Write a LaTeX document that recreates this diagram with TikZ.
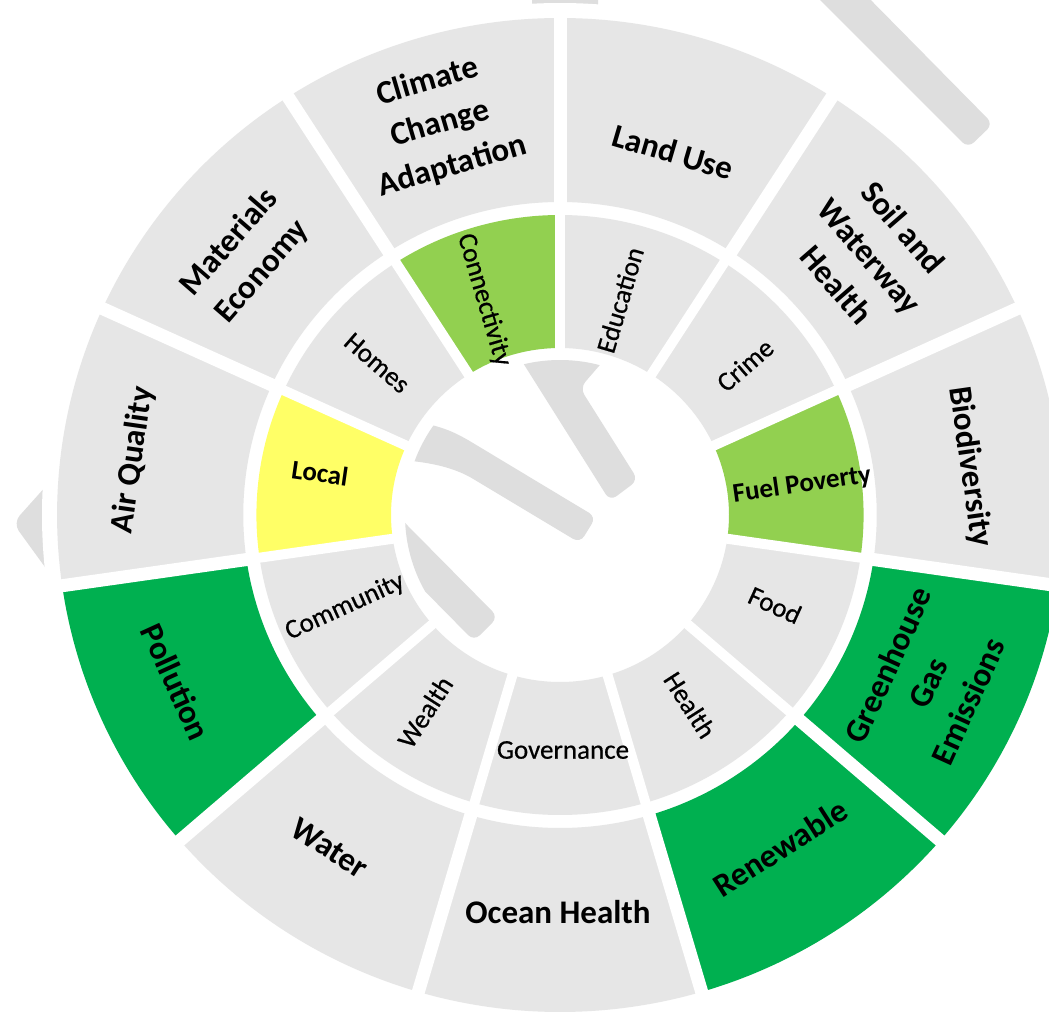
\documentclass[tikz,border=0pt]{standalone}
\usepackage{fontspec}
\setmainfont{Carlito}
\newfontfamily\innerfont[FakeBold=0.6]{Carlito}
\definecolor{seggray}{HTML}{E6E6E6}
\definecolor{handgray}{HTML}{DEDEDE}
\definecolor{darkgreen}{HTML}{00B050}
\definecolor{lightgreen}{HTML}{92D050}
\definecolor{hiyellow}{HTML}{FFFF66}
\newcommand{\RingSeg}[5]{\fill[#1] (#2:#4) arc[start angle=#2,end angle=#3,radius=#4] -- (#3:#5) arc[start angle=#3,end angle=#2,radius=#5] -- cycle;}
\begin{document}
\begin{tikzpicture}[x=1pt,y=1pt,
  outerlab/.style={font=\fontsize{33}{44}\selectfont\bfseries, align=center, inner sep=0pt, text=black},
  innerlab/.style={font=\innerfont\fontsize{27}{32}\selectfont, align=center, inner sep=0pt, text=black},
  innerbold/.style={innerlab, font=\fontsize{27}{32}\selectfont\bfseries},
  handshape/.style={fill=handgray, rounded corners=8pt}]
\useasboundingbox (0,0) rectangle (1049,-1015);
\clip (0,0) rectangle (1049,-1015);
\fill[white] (0,0) rectangle (1049,-1015);
% background shapes behind the wheel
\fill[handshape] (805,15) -- (968,-148) -- (993,-124) -- (856,15) -- cycle;
\fill[handshape, rounded corners=10pt] (13,-523) -- (90,-437) -- (90,-629) -- cycle;
\fill[handshape] (532,10) rectangle (598,-12);
% white backing disk
\fill[white] (560,-515) ellipse[x radius=518pt, y radius=512pt];
% central hands
\begin{scope}
  \clip (560,-515) circle[radius=155pt];
  \fill[handshape] (501.7,-329.1) -- (610,-501) -- (638,-480) -- (580,-388) -- (630,-330) -- cycle;
  \fill[handshape] (380,-418) .. controls (420,-421) and (440,-426) .. (463,-437) -- (596,-517) -- (580,-543) -- (480,-483) .. controls (455,-468) and (430,-461) .. (380,-459) -- cycle;
  \fill[handshape] (345.8,-463.1) -- (498,-617) -- (474,-641) -- (350.8,-516.1) -- cycle;
\end{scope}
% rings
\begin{scope}[shift={(560,-515)}, xscale=1.012]
  % outer ring
  \RingSeg{seggray}{90}{57.2727}{313pt}{497pt}
  \RingSeg{seggray}{57.2727}{24.5455}{313pt}{497pt}
  \RingSeg{seggray}{24.5455}{-8.1818}{313pt}{497pt}
  \RingSeg{darkgreen}{-8.1818}{-40.9091}{313pt}{497pt}
  \RingSeg{darkgreen}{-40.9091}{-73.6364}{313pt}{497pt}
  \RingSeg{seggray}{-73.6364}{-106.3636}{313pt}{497pt}
  \RingSeg{seggray}{-106.3636}{-139.0909}{313pt}{497pt}
  \RingSeg{darkgreen}{-139.0909}{-171.8182}{313pt}{497pt}
  \RingSeg{seggray}{-171.8182}{-204.5455}{313pt}{497pt}
  \RingSeg{seggray}{-204.5455}{-237.2727}{313pt}{497pt}
  \RingSeg{seggray}{-237.2727}{-270}{313pt}{497pt}
  % inner ring
  \RingSeg{seggray}{90}{57.2727}{167pt}{300pt}
  \RingSeg{seggray}{57.2727}{24.5455}{167pt}{300pt}
  \RingSeg{lightgreen}{24.5455}{-8.1818}{167pt}{300pt}
  \RingSeg{seggray}{-8.1818}{-40.9091}{167pt}{300pt}
  \RingSeg{seggray}{-40.9091}{-73.6364}{167pt}{300pt}
  \RingSeg{seggray}{-73.6364}{-106.3636}{167pt}{300pt}
  \RingSeg{seggray}{-106.3636}{-139.0909}{167pt}{300pt}
  \RingSeg{seggray}{-139.0909}{-171.8182}{167pt}{300pt}
  \RingSeg{hiyellow}{-171.8182}{-204.5455}{167pt}{300pt}
  \RingSeg{seggray}{-204.5455}{-237.2727}{167pt}{300pt}
  \RingSeg{lightgreen}{-237.2727}{-270}{167pt}{300pt}
  % radial gaps
  \foreach \a in {90,57.2727,24.5455,-8.1818,-40.9091,-73.6364,-106.3636,-139.0909,-171.8182,-204.5455,-237.2727}{
    \draw[white, line width=13pt] (\a:306pt) -- (\a:505pt);
    \draw[white, line width=10pt] (\a:160pt) -- (\a:307pt);
  }
\end{scope}
% outer labels
\node[outerlab, rotate=16.4] (climate) at (440,-124) {Climate\\Change\\Adaptation};
\node[outerlab, rotate=-16.4] (landuse) at (673,-152) {Land Use};
\node[outerlab, rotate=-49.1] (soil) at (870,-256) {Soil and\\Waterway\\Health};
\node[outerlab, rotate=-81.8] (biodiv) at (970,-467) {Biodiversity};
\node[outerlab, rotate=65.5] (ghg) at (928,-683) {Greenhouse\\Gas\\Emissions};
\node[outerlab, rotate=32.7] (renew) at (780,-848) {Renewable};
\node[outerlab] (ocean) at (558,-912) {Ocean Health};
\node[outerlab, rotate=-32.7] (water) at (330,-848) {Water};
\node[outerlab, rotate=-65.5] (pollution) at (176,-682) {Pollution};
\node[outerlab, rotate=81.8] (airq) at (133,-460) {Air Quality};
\node[outerlab, rotate=49.1] (materials) at (246,-257) {Materials\\Economy};
% inner labels
\node[innerlab, rotate=-73.6] (connect) at (484,-300) {Connectivity};
\node[innerlab, rotate=73.6] (edu) at (620,-300) {Education};
\node[innerlab, rotate=40.9] (crime) at (745,-365) {Crime};
\node[innerbold, rotate=8.2] (fuel) at (802,-485) {Fuel Poverty};
\node[innerlab, rotate=-24.5] (food) at (775,-605) {Food};
\node[innerlab, rotate=-57.3] (health) at (690,-705) {Health};
\node[innerlab] (gov) at (563,-750) {Governance};
\node[innerlab, rotate=57.3] (wealth) at (425,-712) {Wealth};
\node[innerlab, rotate=24.5] (community) at (345,-607) {Community};
\node[innerbold, rotate=-8.2] (local) at (320,-473) {Local};
\node[innerlab, rotate=-40.9] (homes) at (377,-363) {Homes};
\end{tikzpicture}
\end{document}
